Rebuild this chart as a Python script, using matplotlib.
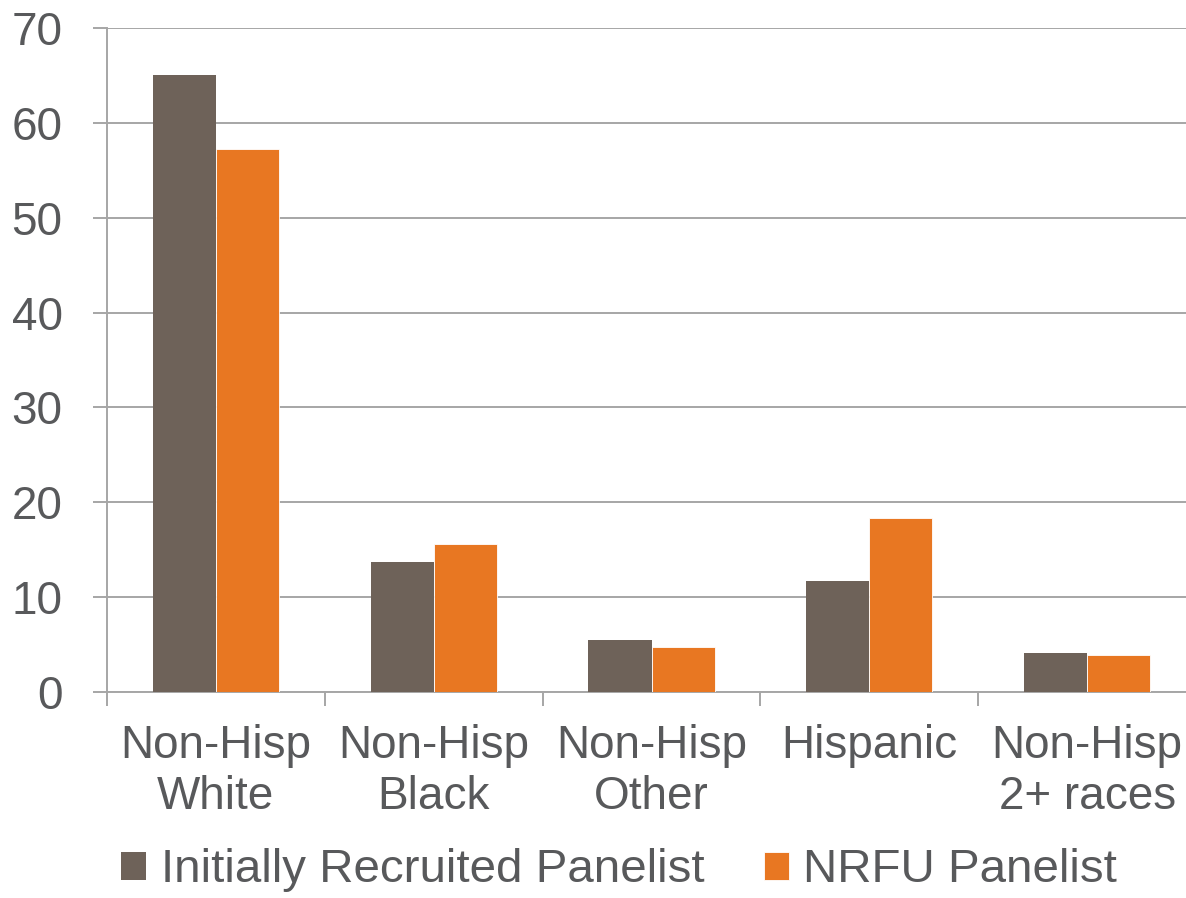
import numpy as np
import matplotlib.pyplot as plt

plt.rcParams['font.family'] = ['Liberation Sans', 'DejaVu Sans']

categories = ['Non-Hisp\nWhite', 'Non-Hisp\nBlack', 'Non-Hisp\nOther', 'Hispanic', 'Non-Hisp\n2+ races']
initial = [65.0, 13.7, 5.5, 11.7, 4.1]
nrfu = [57.2, 15.6, 4.7, 18.3, 3.9]
series_names = ['Initially Recruited Panelist', 'NRFU Panelist']

gray = '#6E6259'
orange = '#E87722'
text_col = '#58595B'
grid_col = '#A6A6A6'

fig = plt.figure(figsize=(11.86, 8.98), dpi=100)
ax = fig.add_axes([107 / 1186, 206 / 898, 1089 / 1186, 664 / 898])

x = np.arange(len(categories))
w = 0.29
ax.bar(x - w / 2, initial, w, color=gray, label=series_names[0], zorder=3)
ax.bar(x + w / 2, nrfu, w, color=orange, label=series_names[1], zorder=3,
       edgecolor='white', linewidth=0.6)

ax.set_xlim(-0.5, len(categories) - 0.5)
ax.set_ylim(0, 70)
ax.set_yticks(range(0, 71, 10))
ax.yaxis.grid(True, color=grid_col, linewidth=1.4, zorder=0)
ax.set_axisbelow(True)

# category separators as ticks on the x axis
ax.set_xticks(np.arange(-0.5, len(categories) - 0.5, 1.0))
ax.set_xticklabels([])
ax.set_xticks(x, minor=True)
ax.set_xticklabels(categories, minor=True, fontsize=33, color=text_col, linespacing=1.22)
ax.tick_params(axis='x', which='minor', length=0, pad=23)
ax.tick_params(axis='x', which='major', length=10, width=1.4, color=grid_col)
ax.tick_params(axis='y', length=10, width=1.4, color=grid_col, labelsize=33,
               labelcolor=text_col, pad=22)

for s in ['top', 'right']:
    ax.spines[s].set_visible(False)
for s in ['left', 'bottom']:
    ax.spines[s].set_color(grid_col)
    ax.spines[s].set_linewidth(1.4)

fig.legend(loc='lower center', bbox_to_anchor=(0.522, -0.015), ncol=2, frameon=False,
           fontsize=34.2, labelcolor=text_col, handlelength=0.53, handleheight=0.53,
           handletextpad=0.3, columnspacing=1.25, borderaxespad=0)

fig.savefig('out.png', dpi=100)
